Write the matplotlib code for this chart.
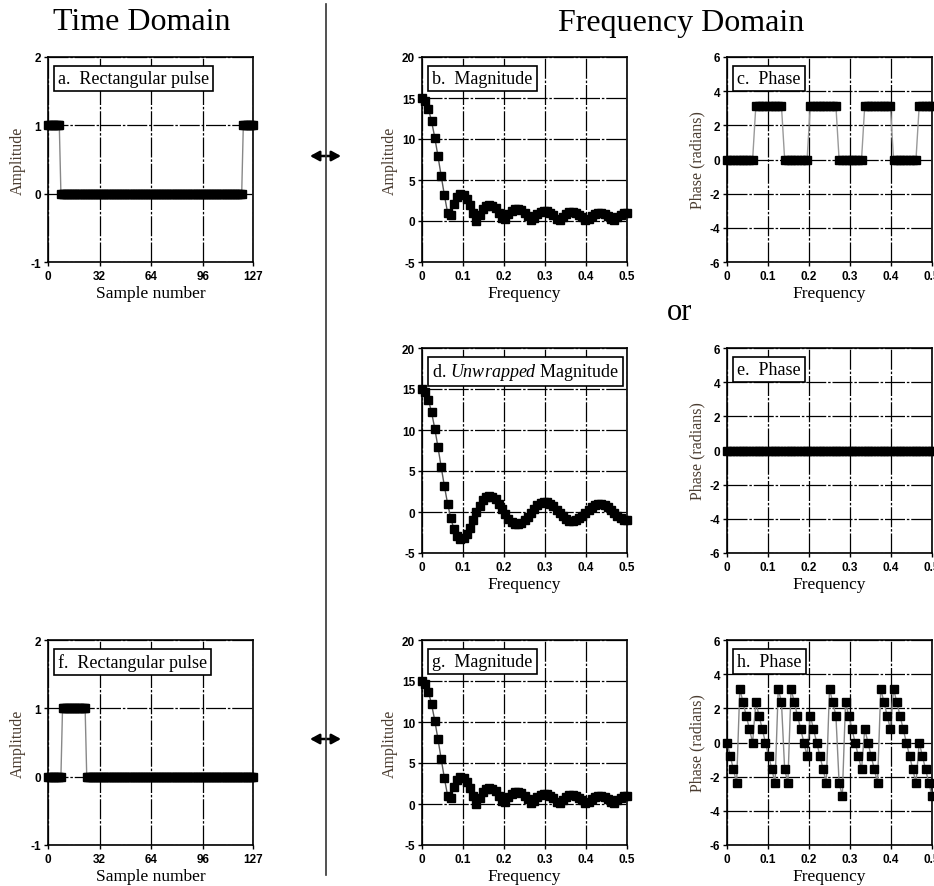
import numpy as np
import matplotlib
matplotlib.use("Agg")
import matplotlib.pyplot as plt
from matplotlib.patches import FancyArrowPatch
from matplotlib.lines import Line2D

plt.rcParams['font.family'] = ['Liberation Serif', 'DejaVu Serif']
plt.rcParams['mathtext.fontset'] = 'custom'
plt.rcParams['mathtext.it'] = 'Liberation Serif:italic'
plt.rcParams['mathtext.rm'] = 'Liberation Serif'

# ---------------- data ----------------
sample_n = np.arange(128)
pulse_a = [1] * 8 + [0] * 113 + [1] * 7          # samples 0..7 and 121..127
pulse_f = [0] * 9 + [1] * 15 + [0] * 104         # samples 9..23

freq = np.arange(65) / 128.0

unwrapped_mag = [15.00, 14.67, 13.69, 12.14, 10.15, 7.87, 5.47, 3.13, 1.00,
                 -0.78, -2.12, -2.96, -3.30, -3.18, -2.68, -1.92, -1.00, -0.06,
                 0.79, 1.45, 1.87, 2.01, 1.89, 1.53, 1.00, 0.38,
                 -0.25, -0.80, -1.22, -1.45, -1.49, -1.33, -1.00, -0.56, -0.07,
                 0.41, 0.82, 1.10, 1.23, 1.19, 1.00, 0.68, 0.28,
                 -0.14, -0.53, -0.85, -1.04, -1.09, -1.00, -0.78, -0.45, -0.08,
                 0.30, 0.64, 0.88, 1.01, 1.00, 0.86, 0.60, 0.27,
                 -0.10, -0.45, -0.74, -0.93, -1.00]
magnitude = [15.00, 14.67, 13.69, 12.14, 10.15, 7.87, 5.47, 3.13, 1.00,
             0.78, 2.12, 2.96, 3.30, 3.18, 2.68, 1.92, 1.00, 0.06,
             0.79, 1.45, 1.87, 2.01, 1.89, 1.53, 1.00, 0.38,
             0.25, 0.80, 1.22, 1.45, 1.49, 1.33, 1.00, 0.56, 0.07,
             0.41, 0.82, 1.10, 1.23, 1.19, 1.00, 0.68, 0.28,
             0.14, 0.53, 0.85, 1.04, 1.09, 1.00, 0.78, 0.45, 0.08,
             0.30, 0.64, 0.88, 1.01, 1.00, 0.86, 0.60, 0.27,
             0.10, 0.45, 0.74, 0.93, 1.00]
PI = 3.14
phase_c = ([0.0] * 9 + [PI] * 9 + [0.0] * 8 + [PI] * 9 + [0.0] * 8 +
           [PI] * 9 + [0.0] * 8 + [PI] * 5)
phase_e = [0.0] * 65
phase_h = [0.00, -0.79, -1.57, -2.36, 3.14, 2.36, 1.57, 0.79, 0.00,
           2.36, 1.57, 0.79, 0.00, -0.79, -1.57, -2.36, 3.14, 2.36,
           -1.57, -2.36, 3.14, 2.36, 1.57, 0.79, 0.00, -0.79,
           1.57, 0.79, 0.00, -0.79, -1.57, -2.36, 3.14, 2.36, 1.57,
           -2.36, -3.14, 2.36, 1.57, 0.79, 0.00, -0.79, -1.57,
           0.79, 0.00, -0.79, -1.57, -2.36, 3.14, 2.36, 1.57, 0.79,
           3.14, 2.36, 1.57, 0.79, 0.00, -0.79, -1.57, -2.36,
           0.00, -0.79, -1.57, -2.36, -3.14]

time_ticks = [0, 32, 64, 96, 127]
freq_ticks = [0, 0.1, 0.2, 0.3, 0.4, 0.5]
freq_ticklabels = ['0', '0.1', '0.2', '0.3', '0.4', '0.5']

# ---------------- figure ----------------
W, H = 934, 887
fig = plt.figure(figsize=(W / 100, H / 100), dpi=100)

def ax_at(left, top, w=205, h=205):
    return fig.add_axes([left / W, 1 - (top + h) / H, w / W, h / H])

TICKFONT = dict(family='Liberation Sans', weight='bold', size=8.5)
LABCOL = '#4a3c30'

def style(ax, xlim, ylim, xticks, yticks, xticklabels, xlabel, ylabel, label):
    ax.set_xlim(*xlim)
    ax.set_ylim(*ylim)
    ax.set_xticks(xticks)
    ax.set_yticks(yticks)
    ax.set_xticklabels(xticklabels, fontdict=TICKFONT)
    ax.set_yticklabels([str(t) for t in yticks], fontdict=TICKFONT)
    ax.tick_params(direction='out', length=3, width=1, pad=2, colors='black')
    ax.tick_params(axis='x', pad=3)
    for s in ax.spines.values():
        s.set_linewidth(1.2)
    ax.grid(True, color='black', linewidth=0.9, dashes=(16, 1.5, 2, 1.5))
    ax.set_axisbelow(True)
    ax.set_xlabel(xlabel, fontsize=12.5, labelpad=2)
    ax.set_ylabel(ylabel, fontsize=11.5, color=LABCOL, labelpad=3)
    ax.text(0.05, 0.935, label, transform=ax.transAxes, fontsize=13,
            va='top', ha='left', zorder=10,
            bbox=dict(boxstyle='square,pad=0.22', fc='white', ec='black', lw=1.2))

def plot_series(ax, x, y, lcol='#888888'):
    ax.plot(x, y, color=lcol, lw=1.0, zorder=3, clip_on=False)
    ax.plot(x, y, ls='none', marker='s', ms=6, color='black', zorder=4,
            clip_on=False)

cols = [48, 422, 727]
rows = [58, 349, 641]

# a
ax = ax_at(cols[0], rows[0])
plot_series(ax, sample_n, pulse_a)
style(ax, (0, 127), (-1, 2), time_ticks, [-1, 0, 1, 2], [str(t) for t in time_ticks],
      'Sample number', 'Amplitude', 'a.  Rectangular pulse')

# b
ax = ax_at(cols[1], rows[0])
plot_series(ax, freq, magnitude, lcol='#555555')
style(ax, (0, 0.5), (-5, 20), freq_ticks, [-5, 0, 5, 10, 15, 20], freq_ticklabels,
      'Frequency', 'Amplitude', 'b.  Magnitude')

# c
ax = ax_at(cols[2], rows[0])
plot_series(ax, freq, phase_c, lcol='#999999')
style(ax, (0, 0.5), (-6, 6), freq_ticks, [-6, -4, -2, 0, 2, 4, 6], freq_ticklabels,
      'Frequency', 'Phase (radians)', 'c.  Phase')

# d
ax = ax_at(cols[1], rows[1])
plot_series(ax, freq, unwrapped_mag, lcol='#555555')
style(ax, (0, 0.5), (-5, 20), freq_ticks, [-5, 0, 5, 10, 15, 20], freq_ticklabels,
      'Frequency', '', r'd. $\mathit{Unwrapped}$ Magnitude')

# e
ax = ax_at(cols[2], rows[1])
plot_series(ax, freq, phase_e)
style(ax, (0, 0.5), (-6, 6), freq_ticks, [-6, -4, -2, 0, 2, 4, 6], freq_ticklabels,
      'Frequency', 'Phase (radians)', 'e.  Phase')

# f
ax = ax_at(cols[0], rows[2])
plot_series(ax, sample_n, pulse_f)
style(ax, (0, 127), (-1, 2), time_ticks, [-1, 0, 1, 2], [str(t) for t in time_ticks],
      'Sample number', 'Amplitude', 'f.  Rectangular pulse')

# g
ax = ax_at(cols[1], rows[2])
plot_series(ax, freq, magnitude, lcol='#555555')
style(ax, (0, 0.5), (-5, 20), freq_ticks, [-5, 0, 5, 10, 15, 20], freq_ticklabels,
      'Frequency', 'Amplitude', 'g.  Magnitude')

# h
ax = ax_at(cols[2], rows[2])
plot_series(ax, freq, phase_h, lcol='#888888')
style(ax, (0, 0.5), (-6, 6), freq_ticks, [-6, -4, -2, 0, 2, 4, 6], freq_ticklabels,
      'Frequency', 'Phase (radians)', 'h.  Phase')

# ---------------- decorations ----------------
fig.text(142 / W, 1 - 23 / H, 'Time Domain', fontsize=23, ha='center', va='center')
fig.text(681 / W, 1 - 23 / H, 'Frequency Domain', fontsize=23, ha='center', va='center')
fig.text(680 / W, 1 - 312 / H, 'or', fontsize=22, ha='center', va='center')

fig.add_artist(Line2D([326 / W, 326 / W], [1 - 5 / H, 1 - 876 / H], color='#333333', lw=1.2))

for yy in (157, 740):
    fig.add_artist(FancyArrowPatch((310 / W, 1 - yy / H), (341 / W, 1 - yy / H),
                                   transform=fig.transFigure,
                                   arrowstyle='<|-|>,head_length=0.55,head_width=0.3',
                                   mutation_scale=10, lw=1.8, color='black',
                                   shrinkA=0, shrinkB=0))

fig.savefig('out.png', dpi=100)
